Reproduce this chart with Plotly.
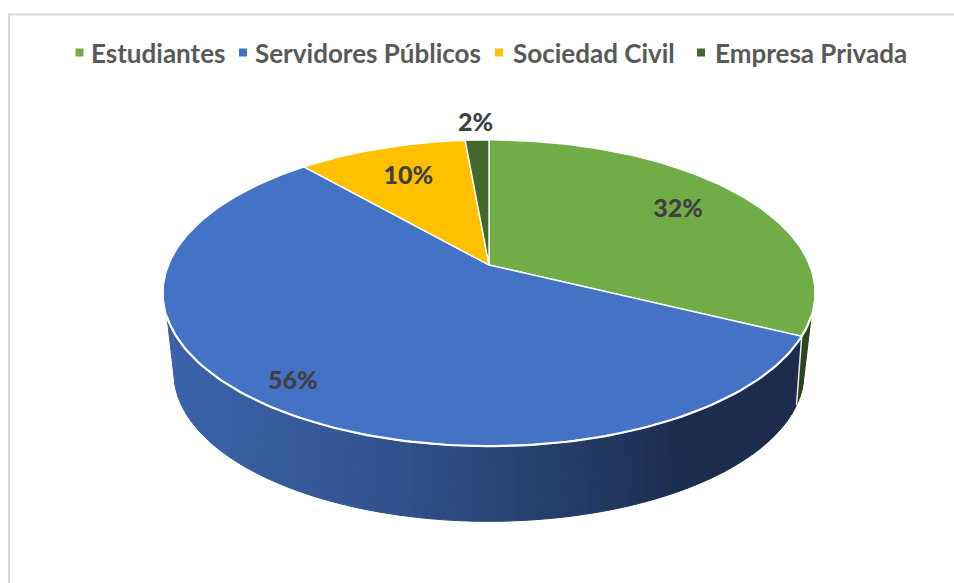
import numpy as np
import plotly.graph_objects as go

categories = ["Estudiantes", "Servidores Públicos", "Sociedad Civil", "Empresa Privada"]
values = [32.3, 56.3, 10.0, 1.4]
percent_labels = ["32%", "56%", "10%", "2%"]
colors = ["#70AD47", "#4472C4", "#FFC000", "#43682B"]

# placement of the percent labels, as a fraction of the disc radius
label_radius = [0.745, 0.875, 0.72, 1.15]

# legend layout, in page pixels
key_x = [79.5, 243, 499, 701]
text_x = [91, 255, 513, 715]
legend_y = 52.5

W, H = 954, 583
CX, CY = 489, 265
TOP = dict(b=320.5, a=148.0, k=0.183, d=0.0)
BOT = dict(b=305.0, a=139.0, k=0.25, d=71.0)
WALL_FROM, WALL_TO = 109.0, 250.7
SHADE_X = [165, 350, 489, 620, 680, 810]
SHADE_F = [0.87, 0.75, 0.62, 0.47, 0.39, 0.39]


def rim(t_deg, p=TOP, r=1.0):
    t = np.radians(t_deg)
    c, s = np.sin(t), -np.cos(t)
    den = 1 - p["k"] * r * s
    return CX + p["b"] * r * c / den, CY + p["d"] + p["a"] * r * s / den


def shade(hex_color, x):
    f = float(np.interp(x, SHADE_X, SHADE_F))
    rgb = [int(hex_color[i:i + 2], 16) for i in (1, 3, 5)]
    return "rgb(%d,%d,%d)" % tuple(round(v * f) for v in rgb)


fig = go.Figure()
edges = np.concatenate([[0], np.cumsum(values) / np.sum(values) * 360])

# outer wall
for i, col in enumerate(colors):
    lo, hi = max(edges[i], WALL_FROM), min(edges[i + 1], WALL_TO)
    if hi <= lo:
        continue
    steps = np.arange(lo, hi, 1.5)
    steps = np.append(steps, hi)
    for a0, a1 in zip(steps[:-1], steps[1:]):
        ts = np.array([a0, a1])
        ux, uy = rim(ts)
        lx, ly = rim(ts[::-1], BOT)
        c = shade(col, (ux.mean() + lx.mean()) / 2)
        fig.add_trace(go.Scatter(
            x=np.r_[ux, lx, ux[0]], y=np.r_[uy, ly, uy[0]], mode="lines", fill="toself",
            fillcolor=c, line=dict(color=c, width=1), showlegend=False, hoverinfo="skip"))

# white seam on the wall between slices
for e in edges[1:-1]:
    if WALL_FROM < e < WALL_TO:
        ux, uy = rim(e)
        lx, ly = rim(e, BOT)
        fig.add_trace(go.Scatter(x=[ux, lx], y=[uy, ly], mode="lines",
                                 line=dict(color="#e8ecf2", width=1.5),
                                 showlegend=False, hoverinfo="skip"))

# top face
for i, col in enumerate(colors):
    ts = np.linspace(edges[i], edges[i + 1], max(int(edges[i + 1] - edges[i]), 3) + 1)
    ax, ay = rim(ts)
    fig.add_trace(go.Scatter(
        x=np.r_[CX, ax, CX], y=np.r_[CY, ay, CY], mode="lines", fill="toself", fillcolor=col,
        line=dict(color="white", width=1.4), showlegend=False, hoverinfo="skip"))

# brighter rim where the top face meets the wall
ts = np.linspace(WALL_FROM, WALL_TO, 120)
rx, ry = rim(ts)
fig.add_trace(go.Scatter(x=rx, y=ry, mode="lines", line=dict(color="white", width=2.2),
                         showlegend=False, hoverinfo="skip"))

# percent labels
mids = (edges[:-1] + edges[1:]) / 2
lab = [rim(m, TOP, r) for m, r in zip(mids, label_radius)]
fig.add_trace(go.Scatter(
    x=[p[0] for p in lab], y=[p[1] for p in lab], mode="text",
    text=percent_labels,
    textfont=dict(family="Lato", size=25, color="#404040", weight=900),
    showlegend=False, hoverinfo="skip"))

# legend keys and names
fig.add_trace(go.Scatter(x=key_x, y=[legend_y] * len(key_x), mode="markers",
                         marker=dict(symbol="square", size=8, color=colors, line=dict(width=0)),
                         showlegend=False, hoverinfo="skip"))
for name, x in zip(categories, text_x):
    fig.add_annotation(x=x, y=legend_y, xref="x", yref="y", text=name, showarrow=False,
                       xanchor="left", yanchor="middle", borderpad=0, borderwidth=0,
                       font=dict(family="Lato", size=26, color="#595959", weight="bold"))

fig.add_shape(type="rect", x0=9, y0=14.5, x1=W + 10, y1=H + 10, xref="x", yref="y",
              line=dict(color="#d9d9d9", width=2), layer="below")

fig.update_layout(
    width=W, height=H, margin=dict(l=0, r=0, t=0, b=0),
    paper_bgcolor="white", plot_bgcolor="white", showlegend=False,
    xaxis=dict(range=[0, W], visible=False, fixedrange=True),
    yaxis=dict(range=[H, 0], visible=False, fixedrange=True),
)
fig.write_html("out.html", config=dict(displayModeBar=False),
               post_script="document.body.style.margin='0';document.documentElement.style.overflow='hidden';")
